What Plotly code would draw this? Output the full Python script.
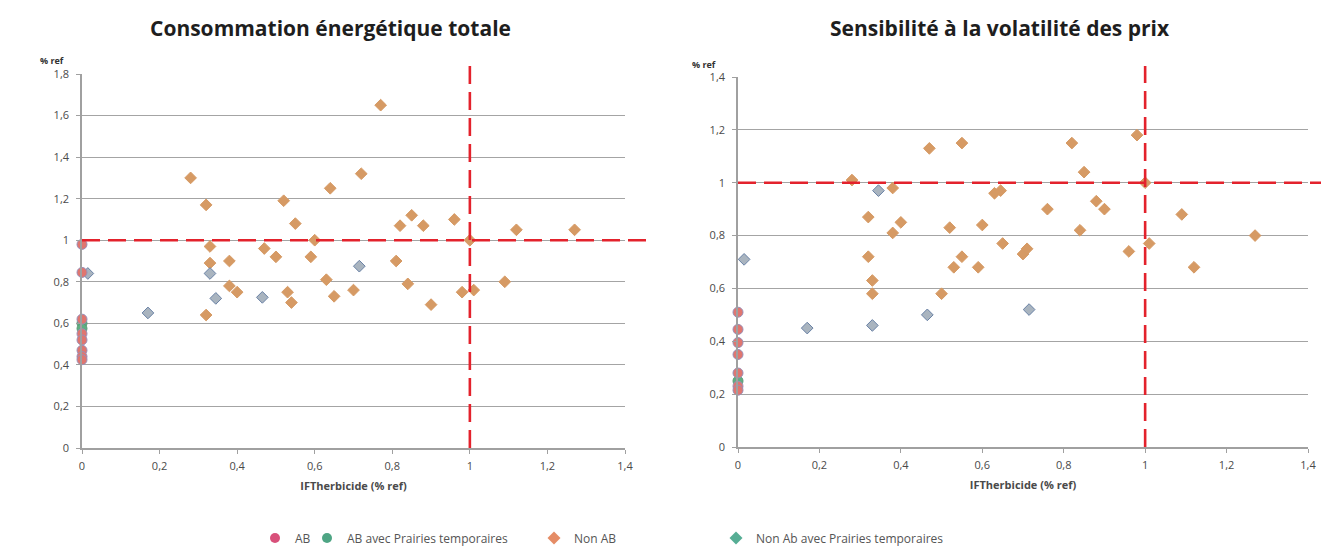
import plotly.graph_objects as go

# ---------------- data ----------------
tick_vals_x = [0, 0.2, 0.4, 0.6, 0.8, 1, 1.2, 1.4]
tick_text_x = ["0", "0,2", "0,4", "0,6", "0,8", "1", "1,2", "1,4"]
tick_vals_y_left = [0, 0.2, 0.4, 0.6, 0.8, 1, 1.2, 1.4, 1.6, 1.8]
tick_text_y_left = ["0", "0,2", "0,4", "0,6", "0,8", "1", "1,2", "1,4", "1,6", "1,8"]
tick_vals_y_right = [0, 0.2, 0.4, 0.6, 0.8, 1, 1.2, 1.4]
tick_text_y_right = ["0", "0,2", "0,4", "0,6", "0,8", "1", "1,2", "1,4"]

series_names = ["AB", "AB avec Prairies temporaires", "Non AB", "Non Ab avec Prairies temporaires"]

# Left chart : Consommation énergétique totale
left_ab_x = [0, 0, 0, 0, 0, 0, 0, 0]
left_ab_y = [0.98, 0.845, 0.62, 0.55, 0.52, 0.47, 0.44, 0.425]
left_abpt_x = [0, 0]
left_abpt_y = [0.60, 0.575]
left_nonab_x = [0.28, 0.32, 0.33, 0.33, 0.38, 0.38, 0.40, 0.32, 0.47, 0.50, 0.52, 0.55,
                0.53, 0.54, 0.59, 0.60, 0.64, 0.63, 0.65, 0.72, 0.70, 0.81, 0.82, 0.85,
                0.88, 0.84, 0.90, 0.96, 0.98, 1.00, 1.01, 1.09, 1.12, 1.27, 0.77]
left_nonab_y = [1.30, 1.17, 0.97, 0.89, 0.90, 0.78, 0.75, 0.64, 0.96, 0.92, 1.19, 1.08,
                0.75, 0.70, 0.92, 1.00, 1.25, 0.81, 0.73, 1.32, 0.76, 0.90, 1.07, 1.12,
                1.07, 0.79, 0.69, 1.10, 0.75, 1.00, 0.76, 0.80, 1.05, 1.05, 1.65]
left_nonabpt_x = [0.015, 0.17, 0.33, 0.345, 0.465, 0.715]
left_nonabpt_y = [0.84, 0.65, 0.84, 0.72, 0.725, 0.875]

# Right chart : Sensibilité à la volatilité des prix
right_ab_x = [0, 0, 0, 0, 0, 0, 0]
right_ab_y = [0.51, 0.445, 0.395, 0.35, 0.28, 0.23, 0.215]
right_abpt_x = [0]
right_abpt_y = [0.25]
right_nonab_x = [0.28, 0.38, 0.32, 0.40, 0.38, 0.32, 0.33, 0.33, 0.50, 0.52, 0.53, 0.55,
                 0.59, 0.60, 0.63, 0.645, 0.65, 0.70, 0.71, 0.76, 0.84, 0.85, 0.88, 0.90,
                 0.96, 1.00, 1.01, 1.09, 1.12, 1.27, 0.47, 0.55, 0.82, 0.98]
right_nonab_y = [1.01, 0.98, 0.87, 0.85, 0.81, 0.72, 0.63, 0.58, 0.58, 0.83, 0.68, 0.72,
                 0.68, 0.84, 0.96, 0.97, 0.77, 0.73, 0.75, 0.90, 0.82, 1.04, 0.93, 0.90,
                 0.74, 1.00, 0.77, 0.88, 0.68, 0.80, 1.13, 1.15, 1.15, 1.18]
right_nonabpt_x = [0.015, 0.17, 0.33, 0.345, 0.465, 0.715]
right_nonabpt_y = [0.71, 0.45, 0.46, 0.97, 0.50, 0.52]

ref_value = 1

# ---------------- layout helpers (page has an 8px body margin) ----------------
W, H, OFF = 1321, 548, 8


def px_x(sx):
    return (sx - OFF) / W


def px_y(sy):
    return 1 - (sy - OFF) / H


# ---------------- styles ----------------
col_ab = "#e0766f"
col_ab_line = "#9a8fb8"
col_abpt = "#5fae82"
col_nonab = "#d69a64"
col_nonabpt = "#a9b4bf"
col_nonabpt_line = "#6a82a6"
leg_cols = ["#d8507a", "#4ea584", "#e58c66", "#56ad94"]
red = "#e3222c"
grid = "#a4a4a4"
tick_font = dict(family="Open Sans, Arial", size=11, color="#4a4a4a")

fig = go.Figure()


def add_series(xa, ya, x, y, symbol, color, line_color, size):
    fig.add_trace(go.Scatter(
        x=x, y=y, mode="markers", xaxis=xa, yaxis=ya, showlegend=False,
        marker=dict(symbol=symbol, size=size, color=color,
                    line=dict(color=line_color, width=1)),
        cliponaxis=False, hoverinfo="x+y"))


for xa, ya, data in [
    ("x", "y", [(left_ab_x, left_ab_y), (left_abpt_x, left_abpt_y),
                (left_nonab_x, left_nonab_y), (left_nonabpt_x, left_nonabpt_y)]),
    ("x2", "y2", [(right_ab_x, right_ab_y), (right_abpt_x, right_abpt_y),
                  (right_nonab_x, right_nonab_y), (right_nonabpt_x, right_nonabpt_y)]),
]:
    add_series(xa, ya, *data[2], "diamond", col_nonab, col_nonab, 9)
    add_series(xa, ya, *data[3], "diamond", col_nonabpt, col_nonabpt_line, 9)
    add_series(xa, ya, *data[1], "circle", col_abpt, "#5c9a78", 10)
    add_series(xa, ya, *data[0], "circle", col_ab, col_ab_line, 10)

# legend entries, each in its own legend box so they can be spaced like the original
leg_symbols = ["circle", "circle", "diamond", "diamond"]
leg_ids = ["legend", "legend2", "legend3", "legend4"]
leg_marker_px = [275, 327, 554, 736]
for name, c, s, lid in zip(series_names, leg_cols, leg_symbols, leg_ids):
    fig.add_trace(go.Scatter(x=[None], y=[None], mode="markers", name=name, legend=lid,
                             marker=dict(symbol=s, size=10, color=c), xaxis="x", yaxis="y"))

legend_font = dict(family="Open Sans, Arial", size=12, color="#555555")
legend_layouts = {}
for lid, mpx in zip(leg_ids, leg_marker_px):
    legend_layouts[lid] = dict(orientation="h", x=px_x(mpx - 20), xanchor="left",
                               y=px_y(538), yanchor="middle", font=legend_font,
                               bgcolor="rgba(0,0,0,0)", borderwidth=0)

# domains
L_dom = [px_x(82), px_x(625)]
R_dom = [px_x(738), px_x(1308)]
L_ydom = [px_y(448), px_y(74)]
R_ydom = [px_y(447), px_y(77)]

xcommon = dict(range=[0, 1.4], tickvals=tick_vals_x, ticktext=tick_text_x,
               showgrid=False, zeroline=False, showline=True, linecolor="#a0a0a0",
               linewidth=1.5, ticks="outside", tickcolor="#a0a0a0", ticklen=4,
               tickfont=tick_font, automargin=False, ticklabelstandoff=3,
               title=dict(text="<b>IFTherbicide (% ref)</b>",
                          font=dict(family="Open Sans, Arial", size=11, color="#4a4a4a"),
                          standoff=10))
ycommon = dict(showgrid=True, gridcolor=grid, gridwidth=1.4, zeroline=False,
               showline=True, linecolor="#a0a0a0", linewidth=1.5, ticks="outside",
               tickcolor="#a0a0a0", ticklen=4, tickfont=tick_font, automargin=False,
               ticklabelstandoff=5)

fig.update_layout(
    width=W, height=H,
    margin=dict(l=0, r=0, t=0, b=0),
    paper_bgcolor="white", plot_bgcolor="white",
    xaxis=dict(domain=L_dom, anchor="y", **xcommon),
    yaxis=dict(domain=L_ydom, anchor="x", range=[0, 1.8],
               tickvals=tick_vals_y_left, ticktext=tick_text_y_left, **ycommon),
    xaxis2=dict(domain=R_dom, anchor="y2", **xcommon),
    yaxis2=dict(domain=R_ydom, anchor="x2", range=[0, 1.4],
                tickvals=tick_vals_y_right, ticktext=tick_text_y_right, **ycommon),
    showlegend=True,
    **legend_layouts,
)

# dashed reference lines
dash = dict(color=red, width=2.6, dash="18px,8px")
fig.add_shape(type="line", xref="x", yref="paper", x0=ref_value, x1=ref_value,
              y0=L_ydom[0], y1=px_y(60), line=dash, layer="above")
fig.add_shape(type="line", xref="paper", yref="y", x0=L_dom[0], x1=px_x(648),
              y0=ref_value, y1=ref_value, line=dash, layer="above")
fig.add_shape(type="line", xref="x2", yref="paper", x0=ref_value, x1=ref_value,
              y0=R_ydom[0], y1=px_y(66), line=dash, layer="above")
fig.add_shape(type="line", xref="paper", yref="y2", x0=R_dom[0], x1=1.0,
              y0=ref_value, y1=ref_value, line=dash, layer="above")

# titles and axis header labels
title_font = dict(family="Open Sans, Lato", size=21, color="#1e1e1e")
fig.add_annotation(text="<b>Consommation énergétique totale</b>", xref="paper", yref="paper",
                   x=px_x(330), y=px_y(28), xanchor="center", yanchor="middle",
                   showarrow=False, font=title_font)
fig.add_annotation(text="<b>Sensibilité à la volatilité des prix</b>", xref="paper", yref="paper",
                   x=px_x(1000), y=px_y(28), xanchor="center", yanchor="middle",
                   showarrow=False, font=title_font)
small_font = dict(family="Open Sans, Arial", size=9, color="#333333")
fig.add_annotation(text="<b>% ref</b>", xref="paper", yref="paper", x=px_x(38),
                   y=px_y(61), xanchor="left", yanchor="middle", showarrow=False,
                   font=small_font)
fig.add_annotation(text="<b>% ref</b>", xref="paper", yref="paper", x=px_x(690),
                   y=px_y(65), xanchor="left", yanchor="middle", showarrow=False,
                   font=small_font)

fig.write_html("out.html")
